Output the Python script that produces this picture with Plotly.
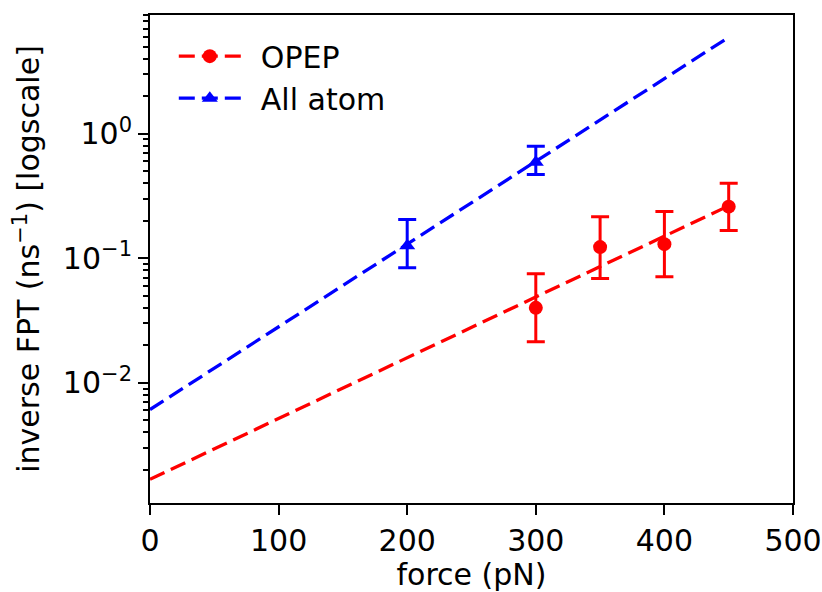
import plotly.graph_objects as go

# ---- data ----
opep_force = [300, 350, 400, 450]
opep_rate = [0.040, 0.123, 0.130, 0.260]
opep_err_hi = [0.075, 0.216, 0.238, 0.400]
opep_err_lo = [0.0214, 0.069, 0.071, 0.167]

aa_force = [200, 300]
aa_rate = [0.126, 0.590]
aa_err_hi = [0.205, 0.795]
aa_err_lo = [0.084, 0.470]

fit_force = [0, 450]
opep_fit = [0.00168, 0.264]
aa_fit = [0.0061, 5.96]

y_major = [0.01, 0.1, 1]
y_major_text = ["10<sup>−2</sup>", "10<sup>−1</sup>", "10<sup>0</sup>"]
y_minor = [m * d for d in (0.001, 0.01, 0.1, 1) for m in range(2, 10)]

RED = "#ff0000"
BLUE = "#0000ff"
FONT = "DejaVu Sans"
FS = 30
DASH = "16px,7px"

fig = go.Figure()

def add_series(x, y, hi, lo, fx, fy, color, symbol, name):
    fig.add_trace(go.Scatter(
        x=fx, y=fy, mode="lines",
        line=dict(color=color, width=3.3, dash=DASH),
        showlegend=False, hoverinfo="skip"))
    fig.add_trace(go.Scatter(
        x=x, y=y, mode="markers",
        marker=dict(color=color, size=14, symbol=symbol),
        error_y=dict(type="data", symmetric=False,
                     array=[h - v for h, v in zip(hi, y)],
                     arrayminus=[v - l for l, v in zip(lo, y)],
                     color=color, thickness=3, width=9),
        showlegend=False))
    fig.add_trace(go.Scatter(
        x=[None], y=[None], mode="lines+markers", name="\u2002" + name,
        line=dict(color=color, width=3.3, dash=DASH),
        marker=dict(color=color, size=14, symbol=symbol)))

add_series(opep_force, opep_rate, opep_err_hi, opep_err_lo,
           fit_force, opep_fit, RED, "circle", "OPEP")
add_series(aa_force, aa_rate, aa_err_hi, aa_err_lo,
           fit_force, aa_fit, BLUE, "triangle-up", "All atom")

axis_common = dict(showline=True, linecolor="black", linewidth=2, mirror=True,
                   ticks="outside", tickcolor="black", tickwidth=2, ticklen=10,
                   showgrid=False, zeroline=False, automargin=False,
                   tickfont=dict(family=FONT, size=FS, color="black"))

fig.update_xaxes(range=[0, 500], tickmode="linear", tick0=0, dtick=100,
                 title=dict(text="force (pN)", font=dict(family=FONT, size=FS, color="black"),
                            standoff=11),
                 **axis_common)
fig.update_yaxes(type="log", range=[-2.965, 0.954],
                 tickmode="array", tickvals=y_major, ticktext=y_major_text,
                 minor=dict(tickmode="array", tickvals=y_minor, ticks="outside",
                            ticklen=5.5, tickwidth=1.6, tickcolor="black"),
                 title=dict(text="inverse FPT (ns<sup>−1</sup>) [logscale]",
                            font=dict(family=FONT, size=FS, color="black"), standoff=14),
                 **axis_common)

fig.update_layout(
    width=822, height=592,
    margin=dict(l=150, r=29, t=15, b=89),
    plot_bgcolor="white", paper_bgcolor="white",
    font=dict(family=FONT, size=FS, color="black"),
    legend=dict(x=0.037, y=0.969, xanchor="left", yanchor="top",
                bgcolor="rgba(255,255,255,0)", borderwidth=0,
                font=dict(family=FONT, size=FS, color="black"),
                itemwidth=62),
)

fig.write_html("out.html", config={"displayModeBar": False},
               post_script="document.body.style.margin='0px';document.body.style.overflow='hidden';")
